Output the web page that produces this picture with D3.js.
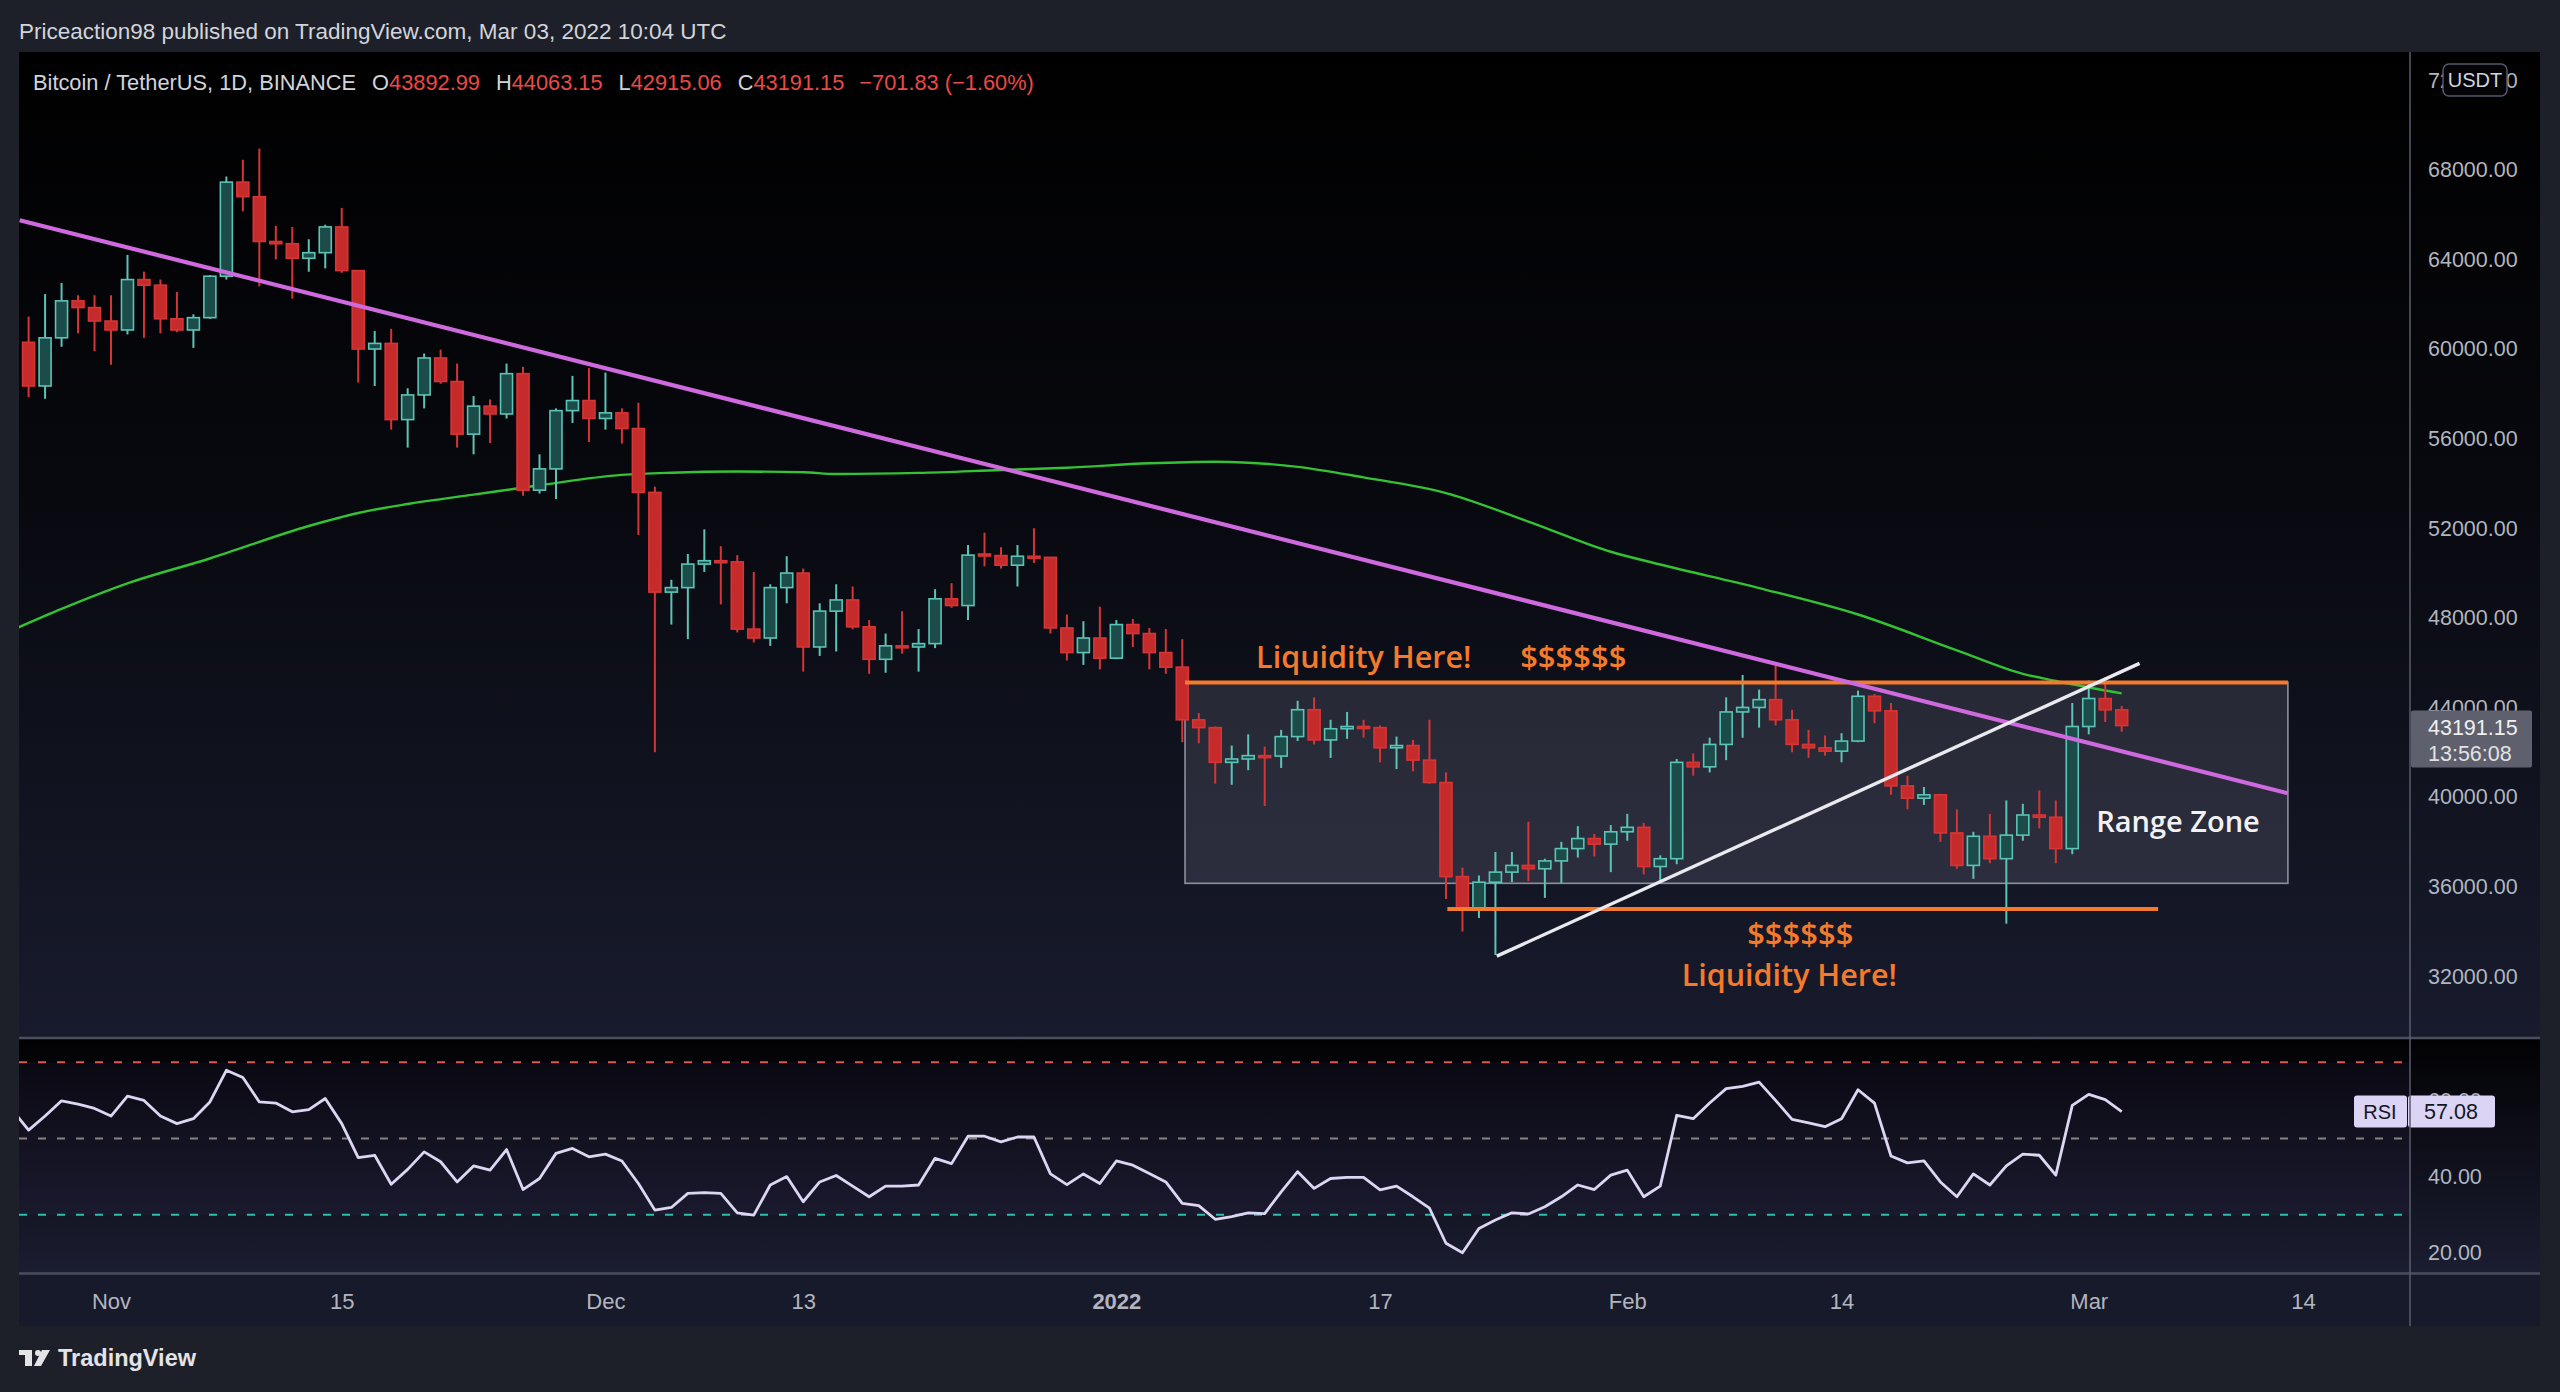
<!DOCTYPE html>
<html>
<head>
<meta charset="utf-8">
<script src="https://cdn.jsdelivr.net/npm/d3@7"></script>
<style>
  html, body { margin: 0; padding: 0; background: #1e2029; }
  svg { display: block; }
</style>
</head>
<body>
<svg id="chart" width="2560" height="1392"></svg>
<script>
// Daily BTC/USDT candles, 26 Oct 2021 .. 3 Mar 2022
const startDay = '2021-10-26';
const endDay = '2022-03-04';

const open = [
  63100, 60300, 58350, 60500, 62150, 61850,
  61250, 60850, 63100, 62850, 61350, 60850, 61400, 63250, 67450, 66800, 64800, 64700, 64050, 64300, 65450,
  63500, 60000, 60250, 56850, 57950, 59600, 58550, 56200, 57450, 57100, 58900, 53700, 54650, 57250, 57700,
  56900, 57150, 56450, 53600, 49150, 49350, 50400, 50550, 50500, 47500, 47100, 49350, 50000, 46700, 48300,
  48800, 47600, 46150, 46750, 46700, 46850, 48850, 48550, 50850, 50780, 50350, 50750, 50700, 47550, 46450, 47100,
  46200, 47700, 47300, 46450, 45800, 43450, 43100, 41550, 41700, 41850, 41830, 42700, 43900, 42550, 43050,
  43150, 43100, 42200, 42300, 41650, 40650, 36450, 35000, 36200, 36650, 36950, 36800, 37150, 37700, 38150, 37900,
  38450, 38650, 36900, 37250, 41550, 41350, 42350, 43800, 44000, 44350, 43450, 42350, 42200, 42050,
  42500, 44500, 43850, 40500, 39950, 40100, 38400, 36950, 38250, 37250, 38300, 39200, 39100, 37700,
  43150, 44400, 43892.99
];
const high = [
  63300, 61450, 62450, 62950, 62400, 62400,
  62400, 64200, 63450, 63100, 62550, 61550, 63300, 67700, 68450, 68950, 65500, 65450, 64900, 65550, 66300,
  63500, 60800, 60900, 58250, 59800, 59970, 59350, 57900, 57750, 59350, 59200, 55300, 57350, 58800, 59150,
  58950, 57350, 57600, 53850, 49700, 50850, 51950, 51200, 50800, 50050, 49500, 50750, 50200, 48650, 49500,
  49400, 47900, 47300, 48300, 47500, 49280, 49550, 51250, 51800, 51150, 51250, 52000, 50700, 48150, 47850, 48500,
  47900, 47950, 47550, 47500, 47050, 43750, 43150, 42300, 42800, 42250, 43000, 44300, 44450, 43450, 43800,
  43450, 43200, 42700, 42550, 43450, 41100, 36850, 36500, 37550, 37550, 38900, 37250, 38000, 38700, 38350, 38750,
  39250, 38850, 37400, 41700, 41950, 42650, 44450, 45450, 44800, 45850, 43900, 43000, 42750, 42850,
  44750, 44600, 44200, 40950, 40450, 40150, 39450, 38450, 39250, 39850, 39700, 40300, 39850, 44200,
  45200, 45350, 44063.15
];
const low = [
  59800, 57850, 57780, 60100, 60700, 59900,
  59300, 60650, 60500, 60700, 60750, 60050, 61350, 63100, 66150, 62800, 64000, 62250, 63450, 63600, 63400,
  58500, 58350, 56400, 55600, 57350, 58450, 55600, 55300, 55800, 56900, 53450, 53550, 53300, 56700, 55850,
  56400, 55780, 51700, 42000, 47700, 47050, 50050, 48600, 47350, 46900, 46750, 48650, 45600, 46300, 46500,
  47500, 45500, 45550, 46400, 45600, 46650, 48450, 47900, 50300, 50200, 49400, 50450, 47300, 46100, 45900, 45700,
  46150, 46700, 45700, 45500, 42450, 42400, 40600, 40550, 41200, 39600, 41300, 42500, 42350, 41750, 42600,
  42650, 41550, 41250, 41150, 40600, 35450, 34000, 34600, 32950, 36200, 36250, 35500, 36150, 37300, 37350, 36650,
  38050, 36550, 36250, 37000, 40950, 41100, 41650, 42650, 43100, 43200, 42000, 41750, 41850, 41550,
  42450, 43300, 40100, 39450, 39650, 38000, 36800, 36350, 37050, 34350, 38050, 38600, 37050, 37450,
  42800, 43350, 42915.06
];
const close = [
  60350, 58350, 60500, 62150, 61850, 61250,
  60850, 63100, 62850, 61350, 60850, 61400, 63250, 67450, 66800, 64800, 64700, 64050, 64300, 65450, 63500,
  60000, 60250, 56850, 57950, 59600, 58550, 56200, 57450, 57100, 58900, 53700, 54650, 57250, 57700, 56900,
  57150, 56450, 53600, 49150, 49350, 50400, 50550, 50500, 47500, 47100, 49350, 50000, 46700, 48300, 48800,
  47600, 46150, 46750, 46700, 46850, 48850, 48550, 50800, 50780, 50350, 50750, 50700, 47550, 46450, 47100, 46200,
  47700, 47300, 46450, 45800, 43450, 43100, 41550, 41700, 41850, 41830, 42700, 43900, 42550, 43050, 43150,
  43100, 42200, 42300, 41650, 40650, 36450, 35000, 36200, 36650, 36950, 36800, 37150, 37700, 38150, 37900, 38450,
  38650, 36900, 37250, 41550, 41350, 42350, 43800, 44000, 44350, 43450, 42350, 42200, 42050, 42500,
  44500, 43850, 40500, 39950, 40100, 38400, 36950, 38250, 37250, 38300, 39200, 39100, 37700, 43150,
  44400, 43892.98, 43191.15
];

// RSI(14) per day
const rsi = [
  57.6, 52.2, 55.9, 59.9, 59.0, 57.9,
  55.9, 61.1, 60.0, 55.9, 53.9, 55.2, 59.6, 67.9, 66.0, 59.6, 59.3, 57.0, 57.6, 60.5, 53.9,
  45.0, 45.6, 38.0, 41.9, 46.5, 43.9, 38.6, 42.8, 41.7, 47.1, 36.6, 39.5, 46.1, 47.4, 45.2,
  45.9, 44.1, 38.2, 31.2, 31.9, 35.6, 35.8, 35.6, 30.5, 29.9, 37.8, 40.0, 33.4, 38.6, 40.3,
  37.5, 34.7, 37.5, 37.5, 37.8, 44.8, 43.4, 50.6, 50.6, 49.1, 50.4, 50.4, 40.7, 37.9, 40.7, 38.2,
  44.1, 43.0, 40.8, 38.6, 33.0, 32.4, 28.8, 29.5, 30.5, 30.3, 36.0, 41.3, 36.9, 39.5, 39.8,
  39.8, 36.5, 37.5, 34.7, 31.7, 22.5, 20.0, 26.4, 28.6, 30.5, 30.2, 32.1, 34.7, 37.8, 36.6, 40.4,
  41.7, 34.7, 37.5, 56.1, 55.2, 59.3, 63.1, 63.7, 64.8, 60.0, 55.0, 54.1, 53.1, 55.2,
  62.8, 59.3, 45.4, 43.6, 44.1, 38.6, 34.7, 40.7, 37.8, 42.8, 45.9, 45.6, 40.4, 58.7,
  61.6, 60.2, 57.08
];

// green moving average, read at points along the curve
const maDates = ['2021-10-26', '2021-10-29', '2021-11-02', '2021-11-07', '2021-11-13', '2021-11-16',
  '2021-11-19', '2021-11-23', '2021-11-27', '2021-12-02', '2021-12-05', '2021-12-09', '2021-12-13',
  '2021-12-15', '2021-12-20', '2021-12-25', '2021-12-29', '2022-01-03', '2022-01-07', '2022-01-12',
  '2022-01-16', '2022-01-21', '2022-01-26', '2022-01-31', '2022-02-03', '2022-02-09', '2022-02-15',
  '2022-02-21', '2022-02-25', '2022-02-27', '2022-03-03'];
const maValues = [47450, 48400, 49540, 50650, 52100, 52680, 53080, 53500, 53920, 54380, 54480, 54530,
  54500, 54420, 54470, 54600, 54700, 54900, 54970, 54740, 54270, 53570, 52300, 50950, 50380, 49330,
  48150, 46550, 45500, 45180, 44630];

const priceTicks = d3.range(32000, 72001, 4000);
const rsiTicks = [20, 40, 60];
const rsiLevels = [70, 50, 30];
const timeTicks = ['2021-11-01', '2021-11-15', '2021-12-01', '2021-12-13', '2022-01-01',
  '2022-01-17', '2022-02-01', '2022-02-14', '2022-03-01', '2022-03-14'];
const timeTickLabels = ['Nov', '15', 'Dec', '13', '2022', '17', 'Feb', '14', 'Mar', '14'];

// drawings
const rangeZone = { from: '2022-01-05T04:00Z', to: '2022-03-13T02:00Z', top: 45120, bottom: 36150 };
const lowLiquidity = { from: '2022-01-21T02:00Z', to: '2022-03-05T05:00Z', price: 35000 };
const downTrend = [['2021-10-26T11:00Z', 65750], ['2022-03-13T02:00Z', 40170]];
const upTrend = [['2022-01-24T02:00Z', 32900], ['2022-03-04T02:00Z', 45970]];

const UP_FILL = '#1b4c4a', UP_LINE = '#5cc4b6';
const DOWN_FILL = '#c62b2b', DOWN_LINE = '#d63535';
const ORANGE = '#f47a2c';
const TEXT = '#d1d4dc', AXIS_TEXT = '#b2b5be', RED_TEXT = '#ea4a45';
const UI_FONT = '"Liberation Sans", Arial, sans-serif';
const NOTE_FONT = '"Open Sans", sans-serif';

const parse = s => new Date(s.length > 10 ? s : s + 'T00:00Z');
const dates = d3.utcDay.range(parse(startDay), parse(endDay));

// layout
const left = 19, right = 2540, axisX = 2410;
const mainTop = 52, mainBottom = 1037;
const rsiTop = 1039, rsiBottom = 1273;
const timeBottom = 1326;

const svg = d3.select('#chart');
const defs = svg.append('defs');

const x = d3.scaleUtc()
  .domain([parse('2021-11-01'), parse('2022-03-14')])
  .range([111, 2303]);
const y = d3.scaleLinear().domain([32000, 68000]).range([976.3, 169.8]);
const yr = d3.scaleLinear().domain([30, 70]).range([1214.7, 1062.3]);

function grad(id, stops) {
  const g = defs.append('linearGradient').attr('id', id)
    .attr('x1', 0).attr('y1', 0).attr('x2', 0).attr('y2', 1);
  stops.forEach(([o, c]) => g.append('stop').attr('offset', o).attr('stop-color', c));
}
grad('mainBg', [[0, '#000000'], [0.45, '#08090f'], [1, '#181b2d']]);
grad('rsiBg', [[0, '#020204'], [1, '#1b1d31']]);

defs.append('clipPath').attr('id', 'mainClip').append('rect')
  .attr('x', left).attr('y', mainTop).attr('width', axisX - left).attr('height', mainBottom - mainTop);
defs.append('clipPath').attr('id', 'rsiClip').append('rect')
  .attr('x', left).attr('y', rsiTop).attr('width', axisX - left).attr('height', rsiBottom - rsiTop);
defs.append('clipPath').attr('id', 'axisClip').append('rect')
  .attr('x', axisX).attr('y', mainTop).attr('width', right - axisX).attr('height', mainBottom - mainTop);

// backgrounds
svg.append('rect').attr('width', 2560).attr('height', 1392).attr('fill', '#1e2029');
svg.append('rect').attr('x', left).attr('y', mainTop).attr('width', right - left)
  .attr('height', mainBottom - mainTop).attr('fill', 'url(#mainBg)');
svg.append('rect').attr('x', left).attr('y', rsiTop).attr('width', right - left)
  .attr('height', rsiBottom - rsiTop).attr('fill', 'url(#rsiBg)');
svg.append('rect').attr('x', left).attr('y', rsiBottom).attr('width', right - left)
  .attr('height', timeBottom - rsiBottom).attr('fill', '#171a2b');

// ---------- main pane ----------
const main = svg.append('g').attr('clip-path', 'url(#mainClip)');

// range zone box
main.append('rect')
  .attr('x', x(parse(rangeZone.from)))
  .attr('y', y(rangeZone.top))
  .attr('width', x(parse(rangeZone.to)) - x(parse(rangeZone.from)))
  .attr('height', y(rangeZone.bottom) - y(rangeZone.top))
  .attr('fill', 'rgba(130,134,155,0.22)')
  .attr('stroke', '#8d909c').attr('stroke-width', 1.6);

// moving average
main.append('path')
  .datum(maDates.map((d, i) => [parse(d), maValues[i]]))
  .attr('fill', 'none').attr('stroke', '#34c234').attr('stroke-width', 2.4)
  .attr('d', d3.line().x(d => x(d[0])).y(d => y(d[1])).curve(d3.curveMonotoneX));

// candles
const candles = dates.map((d, i) => ({ date: d, o: open[i], h: high[i], l: low[i], c: close[i] }));
const cg = main.append('g').selectAll('g').data(candles).join('g')
  .attr('transform', d => `translate(${x(d.date)},0)`);
cg.append('line')
  .attr('y1', d => y(d.h)).attr('y2', d => y(d.l))
  .attr('stroke', d => d.c >= d.o ? UP_LINE : DOWN_LINE).attr('stroke-width', 2);
cg.append('rect')
  .attr('x', -6).attr('width', 12)
  .attr('y', d => y(Math.max(d.o, d.c)))
  .attr('height', d => Math.max(2, Math.abs(y(d.o) - y(d.c))))
  .attr('fill', d => d.c >= d.o ? UP_FILL : DOWN_FILL)
  .attr('stroke', d => d.c >= d.o ? UP_LINE : DOWN_LINE).attr('stroke-width', 1.6);

// orange liquidity lines
main.append('line')
  .attr('x1', x(parse(rangeZone.from))).attr('x2', x(parse(rangeZone.to)))
  .attr('y1', y(rangeZone.top)).attr('y2', y(rangeZone.top))
  .attr('stroke', ORANGE).attr('stroke-width', 4);
main.append('line')
  .attr('x1', x(parse(lowLiquidity.from))).attr('x2', x(parse(lowLiquidity.to)))
  .attr('y1', y(lowLiquidity.price)).attr('y2', y(lowLiquidity.price))
  .attr('stroke', ORANGE).attr('stroke-width', 4);

// trend lines
const seg = pts => d3.line().x(p => x(parse(p[0]))).y(p => y(p[1]))(pts);
main.append('path').attr('d', seg(downTrend))
  .attr('stroke', '#cf69de').attr('stroke-width', 4.2).attr('fill', 'none');
main.append('path').attr('d', seg(upTrend))
  .attr('stroke', '#e9e9ef').attr('stroke-width', 3.4).attr('fill', 'none');

// notes
function note(text, date, price, anchor, color, size) {
  main.append('text')
    .attr('x', x(parse(date))).attr('y', y(price))
    .attr('text-anchor', anchor)
    .attr('font-family', NOTE_FONT).attr('font-weight', 600).attr('font-size', size)
    .attr('fill', color).text(text);
}
note('Liquidity Here!', '2022-01-09T11:30Z', 45763, 'start', ORANGE, 30.5);
note('$$$$$$', '2022-01-25T12:00Z', 45763, 'start', ORANGE, 31);
note('$$$$$$', '2022-02-11T12:00Z', 33400, 'middle', ORANGE, 31);
note('Liquidity Here!', '2022-02-10T20:00Z', 31560, 'middle', ORANGE, 30.5);
note('Range Zone', '2022-03-06T10:00Z', 38455, 'middle', '#f2f2f5', 29);

// ---------- price axis ----------
const pa = svg.append('g').attr('clip-path', 'url(#axisClip)')
  .append('g').attr('transform', `translate(${axisX + 15},0)`)
  .call(d3.axisRight(y).tickValues(priceTicks).tickFormat(d3.format('.2f')).tickSize(0).tickPadding(3));
pa.select('.domain').remove();
pa.selectAll('text').attr('fill', AXIS_TEXT).attr('font-family', UI_FONT).attr('font-size', 21.5);

// USDT badge
svg.append('rect').attr('x', 2443).attr('y', 64).attr('width', 64).attr('height', 32).attr('rx', 6)
  .attr('fill', '#050507').attr('stroke', '#55586a').attr('stroke-width', 1.5);
svg.append('text').attr('x', 2475).attr('y', 87).attr('text-anchor', 'middle')
  .attr('font-family', UI_FONT).attr('font-size', 20).attr('fill', TEXT).text('USDT');

// last price label
const last = candles[candles.length - 1];
svg.append('rect').attr('x', axisX + 1).attr('y', y(last.c) - 15).attr('width', 121).attr('height', 57)
  .attr('rx', 2).attr('fill', '#5e616d');
svg.append('text').attr('x', 2428).attr('y', y(last.c) + 9)
  .attr('font-family', UI_FONT).attr('font-size', 21.5).attr('fill', '#f0f0f0')
  .text(d3.format('.2f')(last.c));
svg.append('text').attr('x', 2428).attr('y', y(last.c) + 35)
  .attr('font-family', UI_FONT).attr('font-size', 21.5).attr('fill', '#e2e2e6').text('13:56:08');

// ---------- RSI pane ----------
const rsiG = svg.append('g').attr('clip-path', 'url(#rsiClip)');
rsiG.append('rect').attr('x', left).attr('width', axisX - left)
  .attr('y', yr(70)).attr('height', yr(30) - yr(70)).attr('fill', 'rgba(126,87,194,0.06)');
const levelColors = ['#e0574f', '#8a8380', '#2bbfae'];
rsiG.selectAll('line.level').data(rsiLevels).join('line').attr('class', 'level')
  .attr('x1', left).attr('x2', axisX).attr('y1', d => yr(d)).attr('y2', d => yr(d))
  .attr('stroke', (d, i) => levelColors[i]).attr('stroke-width', 2).attr('stroke-dasharray', '8,11');
rsiG.append('path')
  .datum(rsi.map((v, i) => [dates[i], v]))
  .attr('fill', 'none').attr('stroke', '#ddd6f3').attr('stroke-width', 2.8)
  .attr('stroke-linejoin', 'round')
  .attr('d', d3.line().x(d => x(d[0])).y(d => yr(d[1])));

const ra = svg.append('g').attr('transform', `translate(${axisX + 15},0)`)
  .call(d3.axisRight(yr).tickValues(rsiTicks).tickFormat(d3.format('.2f')).tickSize(0).tickPadding(3));
ra.select('.domain').remove();
ra.selectAll('text').attr('fill', AXIS_TEXT).attr('font-family', UI_FONT).attr('font-size', 21.5);

// RSI badge
const rsiLast = rsi[rsi.length - 1];
svg.append('rect').attr('x', 2354).attr('y', yr(rsiLast) - 16).attr('width', 53).attr('height', 32)
  .attr('rx', 3).attr('fill', '#dcd4f4');
svg.append('rect').attr('x', 2408).attr('y', yr(rsiLast) - 16).attr('width', 87).attr('height', 32)
  .attr('rx', 3).attr('fill', '#dcd4f4');
svg.append('text').attr('x', 2380).attr('y', yr(rsiLast) + 7).attr('text-anchor', 'middle')
  .attr('font-family', UI_FONT).attr('font-size', 20).attr('fill', '#131722').text('RSI');
svg.append('text').attr('x', 2451).attr('y', yr(rsiLast) + 7).attr('text-anchor', 'middle')
  .attr('font-family', UI_FONT).attr('font-size', 21.5).attr('fill', '#131722').text(d3.format('.2f')(rsiLast));

// ---------- time axis ----------
const ta = svg.append('g').attr('transform', `translate(0,${rsiBottom})`)
  .call(d3.axisBottom(x).tickValues(timeTicks.map(parse))
    .tickFormat((d, i) => timeTickLabels[i]).tickSize(0).tickPadding(20));
ta.select('.domain').remove();
ta.selectAll('text').attr('fill', AXIS_TEXT).attr('font-family', UI_FONT).attr('font-size', 22)
  .attr('font-weight', (d, i) => timeTickLabels[i] === '2022' ? 700 : 400);

// separators
const sep = '#4b4e5b';
svg.append('line').attr('x1', left).attr('x2', right).attr('y1', 1038).attr('y2', 1038)
  .attr('stroke', sep).attr('stroke-width', 2.5);
svg.append('line').attr('x1', left).attr('x2', right).attr('y1', rsiBottom + 0.5).attr('y2', rsiBottom + 0.5)
  .attr('stroke', sep).attr('stroke-width', 2.5);
svg.append('line').attr('x1', axisX).attr('x2', axisX).attr('y1', mainTop).attr('y2', timeBottom)
  .attr('stroke', '#5a5d6a').attr('stroke-width', 1.5);

// ---------- header ----------
svg.append('text').attr('x', 19).attr('y', 39)
  .attr('font-family', UI_FONT).attr('font-size', 22.5).attr('fill', TEXT)
  .text('Priceaction98 published on TradingView.com, Mar 03, 2022 10:04 UTC');

const prev = close[close.length - 2];
const chg = last.c - prev;
const fmt = d3.format('.2f');
const h2 = svg.append('text').attr('x', 33).attr('y', 90)
  .attr('font-family', UI_FONT).attr('font-size', 21.8).attr('fill', TEXT);
h2.append('tspan').text('Bitcoin / TetherUS, 1D, BINANCE');
[['O', last.o], ['H', last.h], ['L', last.l], ['C', last.c]].forEach(([k, v]) => {
  h2.append('tspan').attr('dx', 16).text(k);
  h2.append('tspan').attr('fill', RED_TEXT).text(fmt(v));
});
h2.append('tspan').attr('dx', 15).attr('fill', RED_TEXT)
  .text(`${fmt(chg).replace('-', '\u2212')} (${fmt(chg / prev * 100).replace('-', '\u2212')}%)`);

// TradingView logo
const logo = svg.append('g').attr('fill', '#e4e4e8');
logo.append('rect').attr('x', 19).attr('y', 1350).attr('width', 13).attr('height', 5);
logo.append('rect').attr('x', 25).attr('y', 1350).attr('width', 7).attr('height', 16);
logo.append('circle').attr('cx', 38).attr('cy', 1353).attr('r', 3);
logo.append('path').attr('d', 'M42,1350 L50,1350 L41,1366 L34,1366 Z');
svg.append('text').attr('x', 58).attr('y', 1366)
  .attr('font-family', UI_FONT).attr('font-size', 23.5).attr('font-weight', 600)
  .attr('fill', '#e4e4e8').text('TradingView');
</script>
</body>
</html>
